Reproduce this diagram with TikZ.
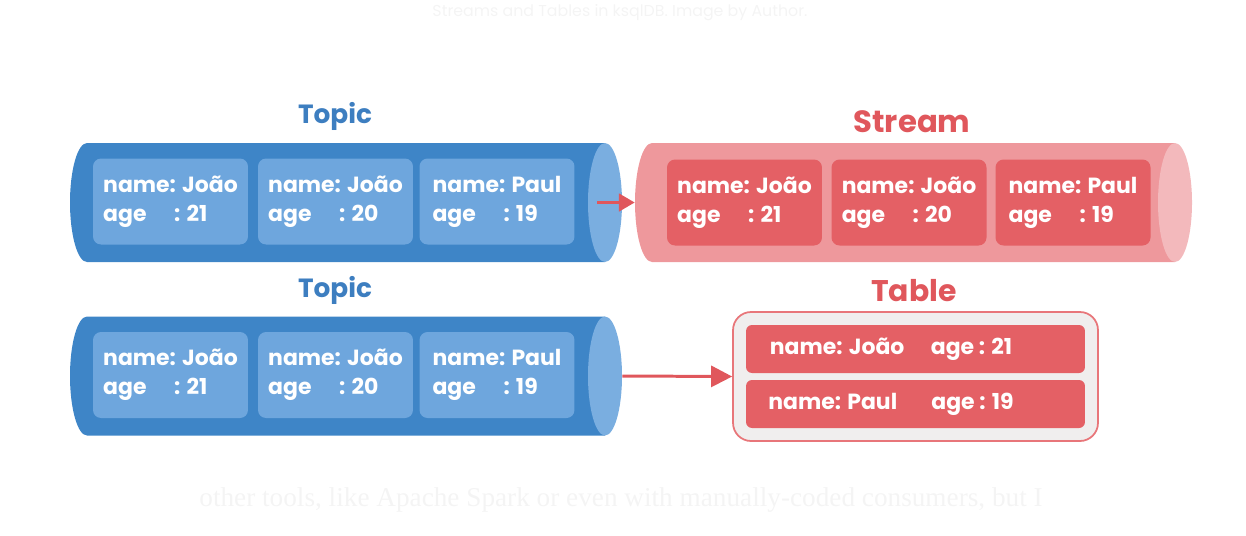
\documentclass[tikz,border=0pt]{standalone}
\usepackage{fontspec}
\setmainfont{Poppins}
\newfontfamily\bodyfont{Liberation Serif}
\usetikzlibrary{arrows.meta}

\definecolor{topicblue}{RGB}{62,133,199}
\definecolor{topiccap}{RGB}{122,174,224}
\definecolor{recblue}{RGB}{110,166,221}
\definecolor{titleblue}{RGB}{61,126,192}
\definecolor{streampink}{RGB}{238,152,156}
\definecolor{streamcap}{RGB}{243,185,188}
\definecolor{recred}{RGB}{228,96,101}
\definecolor{titlered}{RGB}{224,87,92}
\definecolor{tablebg}{RGB}{240,238,238}
\definecolor{tableline}{RGB}{232,118,122}
\definecolor{faint}{RGB}{244,244,244}

\newcommand{\rec}[2]{name: #1\\\makebox[1.42cm][l]{age}: #2}
\newcommand{\pipe}[5]{%
  \fill[#4] (#1,#3-59.5) -- (#2,#3-59.5) -- (#2,#3+59.5) -- (#1,#3+59.5) arc[start angle=270, end angle=90, x radius=0.34cm, y radius=1.19cm] -- cycle;
  \fill[#5] (#2,#3) ellipse[x radius=0.34cm, y radius=1.19cm];}

\tikzset{
  pipe/.style={minimum height=2.38cm, inner sep=0pt},
  record/.style={rounded corners=0.16cm, minimum width=3.1cm, minimum height=1.72cm, align=left, text=white, font=\bfseries\fontsize{12.5}{16.5}\selectfont},
  topicrec/.style={record, fill=recblue},
  streamrec/.style={record, fill=recred},
  row/.style={rounded corners=0.12cm, fill=recred, text=white, minimum height=0.96cm, minimum width=6.78cm, font=\bfseries\fontsize{12.5}{16}\selectfont},
  title/.style={font=\bfseries\fontsize{15}{18}\selectfont},
  flow/.style={draw=titlered, line width=1.7pt, -{Triangle[length=9pt,width=10pt]}}
}

\begin{document}
\begin{tikzpicture}[x=0.02cm,y=-0.02cm]
\useasboundingbox (0,0) rectangle (1246,535);
\node[text=faint, font=\fontsize{9}{11}\selectfont] (cap) at (620,13) {Streams and Tables in ksqlDB. Image by Author.};
\node[text=faint, font=\bodyfont\fontsize{15.5}{18}\selectfont] (body) at (621,500) {other tools, like Apache Spark or even with manually-coded consumers, but I};

\node[title, text=titleblue] (L1) at (335,116) {Topic};
\node[title, text=titlered, font=\bfseries\fontsize{17.5}{21}\selectfont] (L2) at (912,122) {Stream};
\node[title, text=titleblue] (L3) at (335,290) {Topic};
\node[title, text=titlered, font=\bfseries\fontsize{17}{20}\selectfont] (L4) at (914,291) {Table};

\node[pipe, minimum width=11.04cm] (T1) at (346,202.5) {};
\node[pipe, minimum width=11.14cm] (S1) at (913.5,202.5) {};
\node[pipe, minimum width=11.04cm] (T2) at (346,376) {};
\pipe{87}{605}{202.5}{topicblue}{topiccap}
\pipe{652}{1175}{202.5}{streampink}{streamcap}
\pipe{87}{605}{376}{topicblue}{topiccap}

\node[topicrec] (T1a) at (170.5,201.5) {\rec{João}{21}};
\node[topicrec] (T1b) at (335.5,201.5) {\rec{João}{20}};
\node[topicrec] (T1c) at (497,201.5) {\rec{Paul}{19}};
\node[streamrec] (S1a) at (744.5,202.5) {\rec{João}{21}};
\node[streamrec] (S1b) at (909,202.5) {\rec{João}{20}};
\node[streamrec] (S1c) at (1073,202.5) {\rec{Paul}{19}};
\node[topicrec] (T2a) at (170.5,375) {\rec{João}{21}};
\node[topicrec] (T2b) at (335.5,375) {\rec{João}{20}};
\node[topicrec] (T2c) at (497,375) {\rec{Paul}{19}};

\node[draw=tableline, line width=1pt, fill=tablebg, rounded corners=0.36cm, minimum width=7.3cm, minimum height=2.58cm] (Tab) at (915.5,376.5) {};
\node[row] (R1) at (915.5,349) {\makebox[3.22cm][l]{name: João}age : 21\kern0.98cm};
\node[row] (R2) at (915.5,404) {\makebox[3.26cm][l]{name: Paul}age : 19\kern0.98cm};

\draw[flow] ([xshift=-0.5cm]T1.east) -- (S1.west);
\draw[flow, -{Triangle[length=12pt,width=12pt]}] (T2.east) -- (Tab.west);
\end{tikzpicture}
\end{document}
